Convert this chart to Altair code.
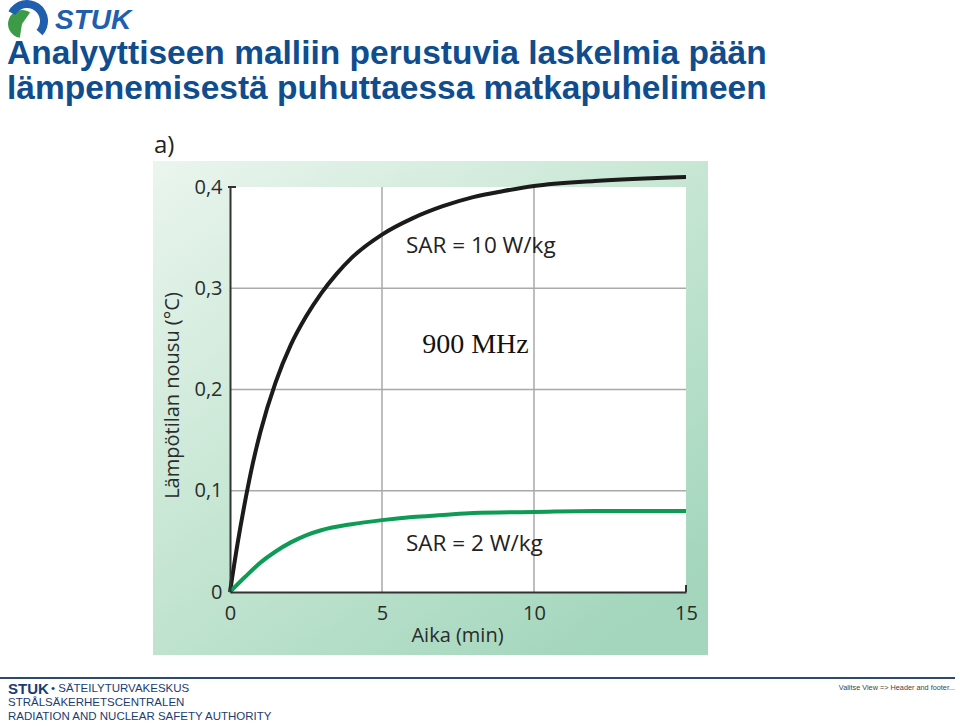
import altair as alt
import pandas as pd

# ---- data ----
t_black = [0, 0.25, 0.5, 0.75, 1, 1.5, 2, 2.5, 3, 3.5, 4, 5, 6, 7, 8, 9, 10, 12, 15]
v_black = [0, 0.048, 0.09, 0.127, 0.158, 0.207, 0.244, 0.272, 0.295, 0.314, 0.33, 0.353, 0.369, 0.381, 0.39, 0.396, 0.401, 0.406, 0.41]
t_green = [0, 0.5, 1, 1.5, 2, 2.5, 3, 4, 5, 6, 7, 8, 10, 12, 15]
v_green = [0, 0.015, 0.029, 0.04, 0.049, 0.056, 0.061, 0.067, 0.071, 0.074, 0.076, 0.078, 0.079, 0.08, 0.08]

x_ticks = [0, 5, 10, 15]
y_ticks = [0, 0.1, 0.2, 0.3, 0.4]
x_grid = [5, 10]
y_grid = [0.1, 0.2, 0.3]

ann_text = ["SAR = 10 W/kg", "SAR = 2 W/kg"]
ann_t = [5.79, 5.79]
ann_v = [0.342, 0.047]
freq_text = ["900 MHz"]
freq_t = [6.32]
freq_v = [0.244]

title_lines = ["Analyyttiseen malliin perustuvia laskelmia pään",
               "lämpenemisestä puhuttaessa matkapuhelimeen"]
footer_lines = ["STRÅLSÄKERHETSCENTRALEN", "RADIATION AND NUCLEAR SAFETY AUTHORITY"]

W, H = 456, 405
AXFONT = "Open Sans"

curves = pd.concat([
    pd.DataFrame({"t": t_black, "v": v_black, "s": "SAR10"}),
    pd.DataFrame({"t": t_green, "v": v_green, "s": "SAR2"}),
])

xs = alt.Scale(domain=[x_ticks[0], x_ticks[-1]], nice=False, zero=False)
ys = alt.Scale(domain=[y_ticks[0], y_ticks[-1]], nice=False)

dummy = pd.DataFrame({"a": [0]})

# green gradient panel
panel = alt.Chart(dummy).mark_rect(
    fill=alt.Gradient(gradient="linear",
                      stops=[alt.GradientStop(color="#eaf5ee", offset=0),
                             alt.GradientStop(color="#c6e6d3", offset=0.5),
                             alt.GradientStop(color="#a3d6bc", offset=1)],
                      x1=0, y1=0, x2=0.8, y2=1)
).encode(x=alt.value(-77), x2=alt.value(478), y=alt.value(-26), y2=alt.value(468))

white = alt.Chart(pd.DataFrame({"x0": [x_ticks[0]], "x1": [x_ticks[-1]],
                                "y0": [y_ticks[0]], "y1": [y_ticks[-1]]})).mark_rect(
    fill="white").encode(
    x=alt.X("x0:Q", scale=xs,
            axis=alt.Axis(values=x_ticks, title="Aika (min)", grid=False, ticks=False,
                          labelFontSize=20, labelFont=AXFONT, labelColor="#2b2b2b",
                          labelPadding=11, domainColor="#333333", domainWidth=2,
                          titleFont=AXFONT, titleFontSize=20, titleFontWeight="normal",
                          titleColor="#2b2b2b", titleX=227, titleY=43,
                          titleBaseline="middle", titleAlign="center",
                          labelFlush=False, zindex=1)),
    x2="x1:Q",
    y=alt.Y("y0:Q", scale=ys,
            axis=alt.Axis(values=y_ticks, title="Lämpötilan nousu (°C)", grid=False, ticks=False,
                          labelExpr="datum.value == 0 ? '0' : replace(format(datum.value, '.1f'), '.', ',')",
                          labelFontSize=20, labelFont=AXFONT, labelColor="#2b2b2b",
                          labelPadding=8, domainColor="#333333", domainWidth=2,
                          titleFont=AXFONT, titleFontSize=20, titleFontWeight="normal",
                          titleColor="#2b2b2b", titleX=-58, titleY=208, titleAngle=270,
                          titleBaseline="middle", titleAlign="center",
                          labelFlush=False, zindex=1)),
    y2="y1:Q",
)

vgrid = alt.Chart(pd.DataFrame({"t": x_grid})).mark_rule(color="#a9a9a9", strokeWidth=1.5).encode(
    x=alt.X("t:Q", scale=xs), y=alt.datum(y_ticks[0]), y2=alt.datum(y_ticks[-1]))
hgrid = alt.Chart(pd.DataFrame({"v": y_grid})).mark_rule(color="#a9a9a9", strokeWidth=1.5).encode(
    y=alt.Y("v:Q", scale=ys), x=alt.datum(x_ticks[0]), x2=alt.datum(x_ticks[-1]))

tick_top = alt.Chart(dummy).mark_rule(color="#333333", strokeWidth=2).encode(
    x=alt.value(-2), x2=alt.value(6), y=alt.value(0))
tick_right = alt.Chart(dummy).mark_rule(color="#333333", strokeWidth=2).encode(
    x=alt.value(W), y=alt.value(H - 7), y2=alt.value(H))

lines = alt.Chart(curves).mark_line(strokeWidth=4, interpolate="monotone", strokeCap="butt").encode(
    x=alt.X("t:Q", scale=xs),
    y=alt.Y("v:Q", scale=ys),
    color=alt.Color("s:N", scale=alt.Scale(domain=["SAR10", "SAR2"], range=["#1b1b1b", "#0d9b55"]),
                    legend=None),
    detail="s:N",
)

ann = alt.Chart(pd.DataFrame({"t": ann_t, "v": ann_v, "txt": ann_text})).mark_text(
    align="left", baseline="middle", font=AXFONT, fontSize=22.5, color="#222222").encode(
    x=alt.X("t:Q", scale=xs), y=alt.Y("v:Q", scale=ys), text="txt:N")

freq = alt.Chart(pd.DataFrame({"t": freq_t, "v": freq_v, "txt": freq_text})).mark_text(
    align="left", baseline="middle", font="Liberation Serif", fontSize=28, color="#111111").encode(
    x=alt.X("t:Q", scale=xs), y=alt.Y("v:Q", scale=ys), text="txt:N")

label_a = alt.Chart(dummy).mark_text(align="left", baseline="middle", font=AXFONT,
                                     fontSize=24, color="#222222", text="a)").encode(
    x=alt.value(-76), y=alt.value(-41))

TITLE_COLOR = "#104d8e"
t1 = alt.Chart(dummy).mark_text(align="left", baseline="alphabetic", font="Liberation Sans",
                                fontWeight="bold", fontSize=33.5, color=TITLE_COLOR,
                                text=title_lines[0]).encode(x=alt.value(-223), y=alt.value(-123))
t2 = alt.Chart(dummy).mark_text(align="left", baseline="alphabetic", font="Liberation Sans",
                                fontWeight="bold", fontSize=33.5, color=TITLE_COLOR,
                                text=title_lines[1]).encode(x=alt.value(-223), y=alt.value(-88))

# logo
logo_green = alt.Chart(dummy).mark_arc(color="#3d9b47", innerRadius=0, outerRadius=14,
                                       theta=3.3, theta2=6.9).encode(
    x=alt.value(-208), y=alt.value(-163))
logo_blue = alt.Chart(dummy).mark_arc(color="#1f5fae", innerRadius=13, outerRadius=21,
                                      theta=5.2, theta2=8.6).encode(
    x=alt.value(-203), y=alt.value(-166))
logo_text = alt.Chart(dummy).mark_text(align="left", baseline="alphabetic", font="Liberation Sans",
                                       fontWeight="bold", fontStyle="italic", fontSize=28,
                                       color="#1f5fae", text="STUK").encode(
    x=alt.value(-175), y=alt.value(-158))

# footer
FOOT = "#1b3c72"
f_rule = alt.Chart(dummy).mark_rule(color="#2d4a6b", strokeWidth=2).encode(
    x=alt.value(-230), x2=alt.value(725), y=alt.value(491))
f_stuk = alt.Chart(dummy).mark_text(align="left", baseline="middle", font="Liberation Sans",
                                    fontWeight="bold", fontSize=15, color=FOOT, text="STUK").encode(
    x=alt.value(-222), y=alt.value(502))
f_s1 = alt.Chart(dummy).mark_text(align="left", baseline="middle", font="Liberation Sans",
                                  fontSize=11.5, color=FOOT, text="• SÄTEILYTURVAKESKUS").encode(
    x=alt.value(-179), y=alt.value(502))
f_s2 = alt.Chart(dummy).mark_text(align="left", baseline="middle", font="Liberation Sans",
                                  fontSize=11.5, color=FOOT, text=footer_lines[0]).encode(
    x=alt.value(-222), y=alt.value(516))
f_s3 = alt.Chart(dummy).mark_text(align="left", baseline="middle", font="Liberation Sans",
                                  fontSize=11.5, color=FOOT, text=footer_lines[1]).encode(
    x=alt.value(-222), y=alt.value(530))
f_right = alt.Chart(dummy).mark_text(align="right", baseline="middle", font="Liberation Sans",
                                     fontSize=7.3, color="#444444",
                                     text="Valitse View => Header and footer...").encode(
    x=alt.value(725), y=alt.value(501))

chart = alt.layer(
    panel, white, vgrid, hgrid, tick_top, tick_right, lines, ann, freq, label_a,
    t1, t2, logo_green, logo_blue, logo_text,
    f_rule, f_stuk, f_s1, f_s2, f_s3, f_right,
).properties(
    width=W, height=H,
    padding={"left": 230, "top": 187, "right": 274, "bottom": 134},
    autosize="none",
    background="white",
).configure_view(stroke=None)

chart.save("out.html", embed_options={"renderer": "svg", "actions": False})
